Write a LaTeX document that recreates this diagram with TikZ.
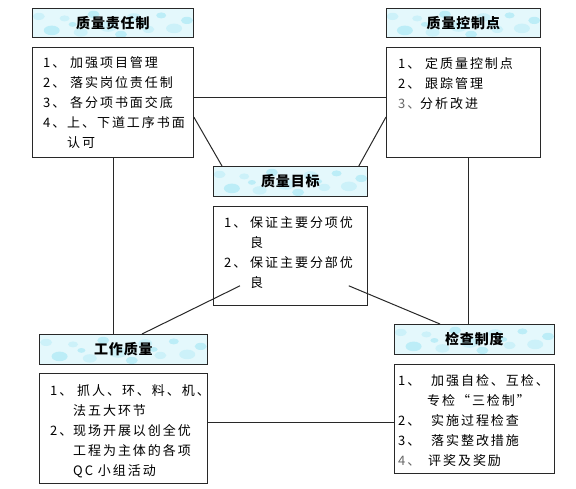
\documentclass[tikz,border=0pt]{standalone}
\usepackage{fontspec}
\setmainfont{Noto Sans CJK SC}[LetterSpace=15]
\newfontfamily\titlefont{Noto Sans CJK SC}[LetterSpace=6]
\usetikzlibrary{calc}
\definecolor{tfill}{RGB}{228,248,252}
\definecolor{blobA}{RGB}{175,234,246}
\definecolor{blobB}{RGB}{140,224,242}
\definecolor{lcol}{RGB}{40,40,40}
\newcommand{\numb}[2]{\makebox[#1][l]{#2}}
\begin{document}
\begin{tikzpicture}[x=1pt,y=-1pt,
  bubbles/.style={path picture={
    \foreach \fx/\fy/\rr/\cc in {0.04/8/6/blobA,0.12/22/8/blobB,0.2/10/5/blobA,0.3/24/7/blobA,
      0.38/6/6/blobB,0.47/18/9/blobA,0.55/26/6/blobB,0.63/9/7/blobA,0.72/21/6/blobA,
      0.8/7/5/blobB,0.88/20/8/blobA,0.96/12/6/blobB,0.25/16/4/blobB,0.68/15/4/blobB}
      {\fill[\cc,opacity=0.45] ($(path picture bounding box.north west)!\fx!(path picture bounding box.north east)+(0,\fy)$)
         ellipse [x radius=\rr pt, y radius=0.6*\rr pt];}
  }},
  titlebox/.style={draw=lcol,line width=0.8pt,fill=tfill,bubbles,inner sep=0pt,anchor=north west,
    font=\titlefont\fontsize{14}{16}\selectfont\bfseries},
  contentbox/.style={draw=lcol,line width=0.8pt,fill=white,inner sep=0pt,anchor=north west},
  contenttext/.style={inner sep=0pt,anchor=north west,align=left,
    font=\fontsize{13}{20}\selectfont},
  conn/.style={draw=lcol,line width=1pt}]
\useasboundingbox (0,0) rectangle (576,488);
% boxes
\node[titlebox,minimum width=161pt,minimum height=29pt] (tlt) at (32,8) {质量责任制};
\node[contentbox,minimum width=161pt,minimum height=110pt] (tlc) at (32,47) {};
\node[titlebox,minimum width=154pt,minimum height=29pt] (trt) at (386,8) {质量控制点};
\node[contentbox,minimum width=154pt,minimum height=110pt] (trc) at (386,47) {};
\node[titlebox,minimum width=154pt,minimum height=30pt] (ct) at (213,166) {质量目标};
\node[contentbox,minimum width=154pt,minimum height=99pt] (cc) at (213,206) {};
\node[titlebox,minimum width=168pt,minimum height=30pt] (blt) at (39,334) {工作质量};
\node[contentbox,minimum width=168pt,minimum height=110pt] (blc) at (39,373) {};
\node[titlebox,minimum width=160pt,minimum height=30pt] (brt) at (394,324) {检查制度};
\node[contentbox,minimum width=160pt,minimum height=109pt] (brc) at (394,364) {};
% connectors
\draw[conn] ($(tlc.north east)+(0,50)$) -- ($(trc.north west)+(0,50)$);
\draw[conn] ($(tlc.north east)+(0,70)$) -- ($(ct.north west)+(9,0)$);
\draw[conn] ($(trc.north west)+(0,70)$) -- ($(ct.north east)+(-9,0)$);
\draw[conn] ($(tlc.south west)+(81,0)$) -- ($(blt.north west)+(74,0)$);
\draw[conn] ($(trc.south west)+(82,0)$) -- ($(brt.north west)+(74,0)$);
\draw[conn] ($(cc.south west)+(27,-20)$) -- ($(blt.north west)+(103,0)$);
\draw[conn] ($(cc.south east)+(-19,-20)$) -- ($(brt.north west)+(46,0)$);
\draw[conn] ($(blc.north east)+(0,49)$) -- ($(brc.north west)+(0,58)$);
% texts
\node[contenttext] (tlx) at (43,56) {\numb{27pt}{1、}加强项目管理\\
\numb{27pt}{2、}落实岗位责任制\\
\numb{27pt}{3、}各分项书面交底\\
\numb{24pt}{4、}上、下道工序书面\\
\hspace*{24pt}认可};
\node[contenttext] (trx) at (398,57) {\numb{27pt}{1、}定质量控制点\\
\numb{27pt}{2、}跟踪管理\\
\numb{22pt}{\color{black!60}3、}分析改进};
\node[contenttext] (ctx) at (224,216) {\numb{26pt}{1、}保证主要分项优\\
\hspace*{26pt}良\\
\numb{26pt}{2、}保证主要分部优\\
\hspace*{26pt}良};
\node[contenttext] (blx) at (50,384) {\numb{27pt}{1、}抓人、环、料、机、\\
\hspace*{23pt}法五大环节\\
\numb{23pt}{2、}现场开展以创全优\\
\hspace*{23pt}工程为主体的各项\\
\hspace*{23pt}QC 小组活动};
\node[contenttext] (brx) at (398,374) {\numb{33pt}{1、}加强自检、互检、\\
\hspace*{29pt}专检“三检制”\\
\numb{33pt}{2、}实施过程检查\\
\numb{33pt}{3、}落实整改措施\\
\numb{30pt}{\color{black!60}4、}评奖及奖励};
\end{tikzpicture}
\end{document}
